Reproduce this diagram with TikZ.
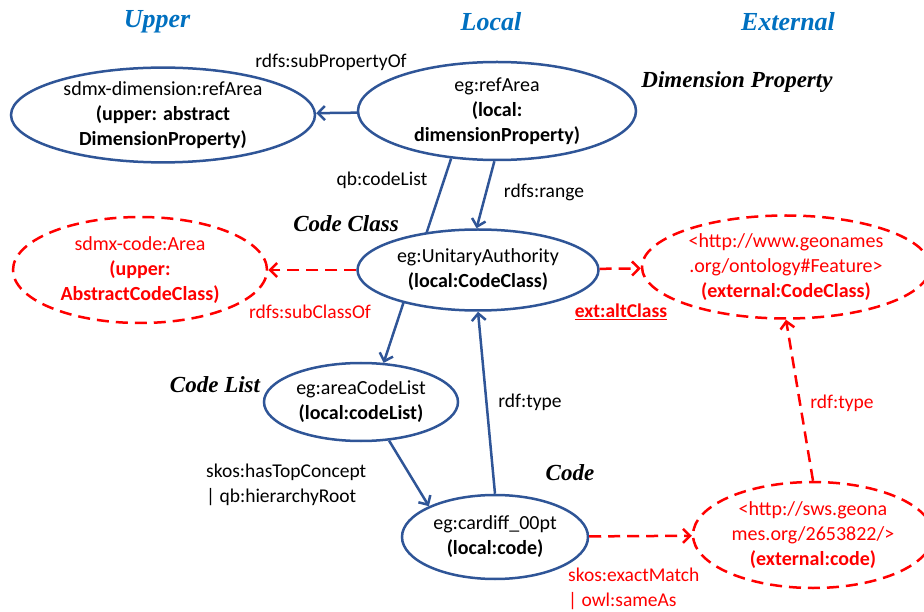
\documentclass[tikz,border=0pt]{standalone}
\usepackage{fontspec}
\setmainfont{Carlito}
\newfontfamily\hdrfont{Liberation Serif}
\usetikzlibrary{shapes.geometric,arrows.meta,backgrounds}
\definecolor{navy}{HTML}{2F5597}
\definecolor{hblue}{HTML}{0070C0}
\definecolor{rd}{HTML}{FF0000}
\begin{document}
\begin{tikzpicture}[x={(1pt,0)},y={(0,-1pt)},
  loc/.style={ellipse, draw=navy, line width=2.5pt, fill=white, align=center, inner sep=0pt,
    font=\fontsize{20}{25}\selectfont},
  extn/.style={ellipse, draw=rd, dash pattern=on 12pt off 7pt, line width=2.5pt, fill=white,
    text=rd, align=center, inner sep=0pt, font=\fontsize{20}{25}\selectfont},
  hdr/.style={font=\hdrfont\bfseries\itshape\fontsize{26}{30}\selectfont, text=hblue},
  cat/.style={font=\hdrfont\bfseries\itshape\fontsize{23}{28}\selectfont},
  lbl/.style={font=\fontsize{19.5}{25}\selectfont, inner sep=0pt},
  arr/.style={draw=navy, line width=2.5pt, -{Straight Barb[length=7pt,width=14pt]}},
  rarr/.style={draw=rd, line width=2.5pt, dash pattern=on 12pt off 7pt, -{Straight Barb[length=7pt,width=14pt]}}]
\useasboundingbox (0,0) rectangle (924,612);
% headers
\node[hdr] (hU) at (157,22) {Upper};
\node[hdr] (hL) at (491,22) {Local};
\node[hdr] (hE) at (788,22) {External};
% category labels
\node[cat] (cDim) at (737,82) {Dimension Property};
\node[cat] (cCC) at (346,224) {Code Class};
\node[cat] (cCL) at (215,385) {Code List};
\node[cat] (cC) at (570,473) {Code};
% nodes
\node[loc, minimum width=304pt, minimum height=88pt] (dimUp) at (163,115)
  {sdmx-dimension:refArea\\\textbf{(upper: abstract}\\\textbf{DimensionProperty)}};
\node[loc, minimum width=278pt, minimum height=98pt] (refArea) at (497,111)
  {eg:refArea\\\textbf{(local:}\\\textbf{dimensionProperty)}};
\node[loc, minimum width=241pt, minimum height=81pt] (unit) at (478,270)
  {eg:UnitaryAuthority\\\textbf{(local:CodeClass)}};
\node[extn, minimum width=254pt, minimum height=106pt] (area) at (140,270)
  {sdmx-code:Area\\\textbf{(upper:}\\\textbf{AbstractCodeClass)}};
\node[extn, minimum width=288pt, minimum height=103pt] (feat) at (786,267)
  {<http://www.geonames\\.org/ontology\#Feature>\\\textbf{(external:CodeClass)}};
\node[loc, minimum width=194pt, minimum height=78pt] (list) at (361,402)
  {eg:areaCodeList\\\textbf{(local:codeList)}};
\node[loc, minimum width=186pt, minimum height=84pt] (card) at (495,537)
  {eg:cardiff\_00pt\\\textbf{(local:code)}};
\node[extn, minimum width=240pt, minimum height=106pt] (extc) at (813,535)
  {<http://sws.geona\\mes.org/2653822/>\\\textbf{(external:code)}};
% edge labels
\node[lbl] (lsp) at (331,62) {rdfs:subPropertyOf};
\node[lbl] (lcl) at (382,180) {qb:codeList};
\node[lbl] (lrg) at (544,192) {rdfs:range};
\node[lbl, text=rd] (lsc) at (310,312) {rdfs:subClassOf};
\node[lbl, text=rd] (lalt) at (621,312) {\textbf{\underline{ext:altClass}}};
\node[lbl, align=left, anchor=west] (lskos) at (206,485) {skos:hasTopConcept\\| qb:hierarchyRoot};
\node[lbl] (lrt) at (530,402) {rdf:type};
\node[lbl, text=rd] (lrt2) at (842,403) {rdf:type};
\node[lbl, text=rd, align=left, anchor=west] (lexm) at (568,589) {skos:exactMatch\\| owl:sameAs};
% edges
\begin{pgfonlayer}{background}
\draw[arr] (refArea.226) -- (list.60);
\end{pgfonlayer}
\draw[arr] (refArea) -- (dimUp);
\draw[arr] (refArea.267) -- (unit.92);
\draw[arr] (list.-54) -- (card.155);
\draw[arr] (card.north) -- (unit.south);
\draw[rarr] (unit) -- (area);
\draw[rarr] (unit) -- (feat);
\draw[rarr] (card) -- (extc);
\draw[rarr] (extc.north) -- (feat.south);
\end{tikzpicture}
\end{document}
